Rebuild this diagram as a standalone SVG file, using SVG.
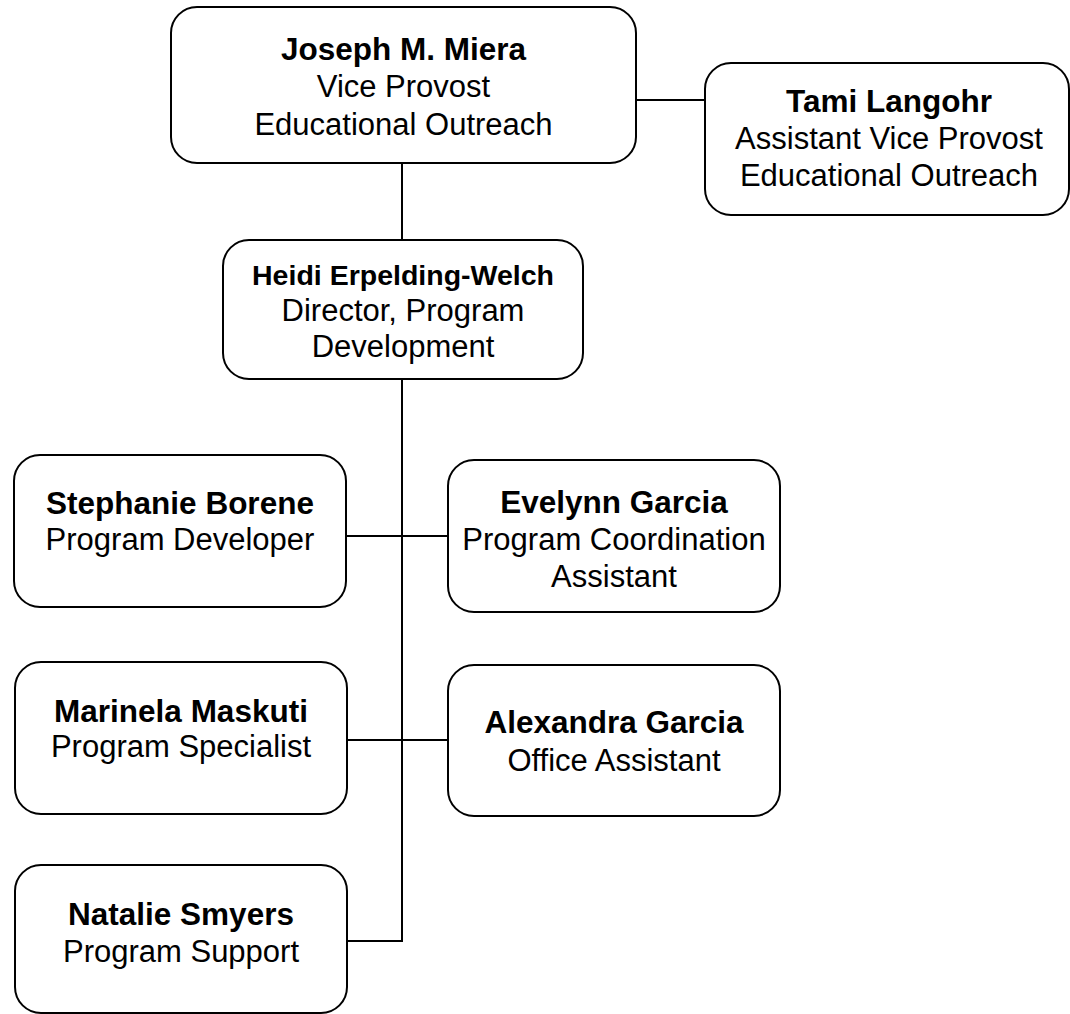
<svg xmlns="http://www.w3.org/2000/svg" width="1070" height="1014" viewBox="0 0 1070 1014">
<style>
.box{fill:#fff;stroke:#000;stroke-width:2}
.conn{stroke:#000;stroke-width:2;fill:none}
text{font-family:"Liberation Sans",Arial,sans-serif;fill:#000;text-anchor:middle}
.n{font-weight:bold;font-size:31.5px}
.t{font-size:31px}
</style>
<rect width="1070" height="1014" fill="#fff"/>
<g id="connectors">
<line class="conn" x1="636" y1="100" x2="705" y2="100"/>
<line class="conn" x1="402" y1="163" x2="402" y2="240"/>
<polyline class="conn" points="402,379 402,941 347,941"/>
<line class="conn" x1="346" y1="536" x2="448" y2="536"/>
<line class="conn" x1="347" y1="740" x2="448" y2="740"/>
</g>
<g id="joseph">
<rect class="box" x="171" y="7" width="465" height="156" rx="26"/>
<text class="n" x="403.5" y="60">Joseph M. Miera</text>
<text class="t" x="403.5" y="97">Vice Provost</text>
<text class="t" x="403.5" y="135">Educational Outreach</text>
</g>
<g id="tami">
<rect class="box" x="705" y="63" width="364" height="152" rx="26"/>
<text class="n" x="889" y="112">Tami Langohr</text>
<text class="t" x="889" y="149">Assistant Vice Provost</text>
<text class="t" x="889" y="186">Educational Outreach</text>
</g>
<g id="heidi">
<rect class="box" x="223" y="240" width="360" height="139" rx="26"/>
<text class="n" x="403" y="285" style="font-size:28.5px">Heidi Erpelding-Welch</text>
<text class="t" x="403" y="321">Director, Program</text>
<text class="t" x="403" y="357">Development</text>
</g>
<g id="stephanie">
<rect class="box" x="14" y="455" width="332" height="152" rx="26"/>
<text class="n" x="180" y="514">Stephanie Borene</text>
<text class="t" x="180" y="550">Program Developer</text>
</g>
<g id="evelynn">
<rect class="box" x="448" y="460" width="332" height="152" rx="26"/>
<text class="n" x="614" y="513">Evelynn Garcia</text>
<text class="t" x="614" y="550">Program Coordination</text>
<text class="t" x="614" y="587">Assistant</text>
</g>
<g id="marinela">
<rect class="box" x="15" y="662" width="332" height="152" rx="26"/>
<text class="n" x="181" y="722">Marinela Maskuti</text>
<text class="t" x="181" y="757">Program Specialist</text>
</g>
<g id="alexandra">
<rect class="box" x="448" y="665" width="332" height="151" rx="26"/>
<text class="n" x="614" y="733">Alexandra Garcia</text>
<text class="t" x="614" y="771">Office Assistant</text>
</g>
<g id="natalie">
<rect class="box" x="15" y="865" width="332" height="148" rx="26"/>
<text class="n" x="181" y="925">Natalie Smyers</text>
<text class="t" x="181" y="962">Program Support</text>
</g>
</svg>
